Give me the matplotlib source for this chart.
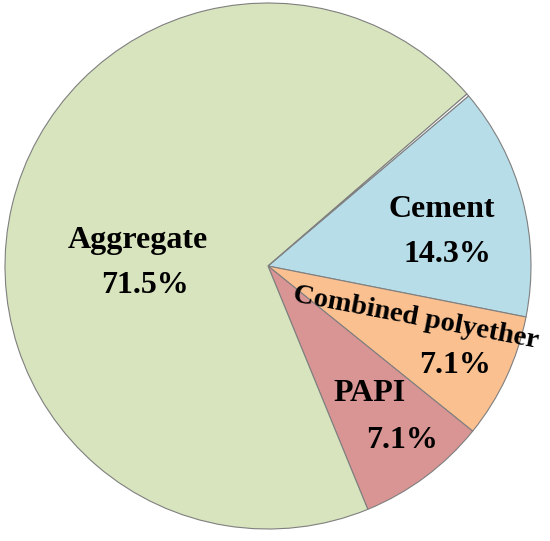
import matplotlib
matplotlib.use("Agg")
import matplotlib.pyplot as plt

# ---- data ----
categories = ["Cement", "Combined polyether", "PAPI", "Aggregate", ""]
slice_values = [14.3, 7.7, 8.0, 69.85, 0.15]
pct_labels = ["14.3%", "7.1%", "7.1%", "71.5%", ""]
colors = ["#B7DDE8", "#FAC090", "#D99594", "#D7E4BD", "#FFFFFF"]

# ---- figure ----
W, H = 550, 541
fig = plt.figure(figsize=(W / 100, H / 100), dpi=100)
ax = fig.add_axes([0, 0, 1, 1])
cx, cy, R = 268, H - 266, 263

wedges, _ = ax.pie(slice_values, colors=colors, startangle=40.3,
                   counterclock=False, center=(cx, cy), radius=R,
                   wedgeprops=dict(edgecolor="#7f7f7f", linewidth=0.8))
ax.set_xlim(0, W)
ax.set_ylim(0, H)
ax.set_aspect("equal")
ax.axis("off")

font = dict(family="Liberation Serif", weight="bold", color="black")
fs = 23

# label layout: (name x, name baseline y, pct x, pct baseline y) in top-origin pixels
layout = {
    "Cement": (442, 217, 447, 262),
    "PAPI": (370, 401, 402, 448),
    "Aggregate": (138, 248, 145, 293),
}
for name, pct in zip(categories, pct_labels):
    if name in layout:
        nx, ny, px, py = layout[name]
        ax.text(nx, H - ny, name, ha="center", va="baseline", fontsize=fs, **font)
        ax.text(px, H - py, pct, ha="center", va="baseline", fontsize=fs, **font)

# Combined polyether: rotated along its wedge edge
ax.text(415, H - 324, categories[1], ha="center", va="baseline", rotation=-10.8,
        rotation_mode="anchor", fontsize=20.5, **font)
ax.text(455, H - 373, pct_labels[1], ha="center", va="baseline", fontsize=fs, **font)

fig.savefig("out.png", dpi=100)
